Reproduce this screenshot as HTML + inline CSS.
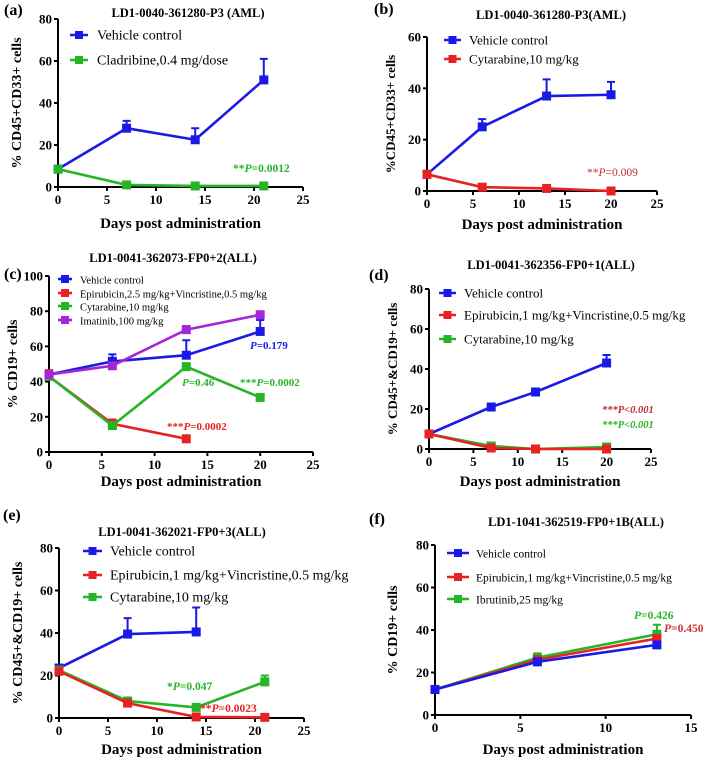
<!DOCTYPE html>
<html><head><meta charset="utf-8">
<style>
html,body{margin:0;padding:0;background:#fff;}
svg{display:block;font-family:"Liberation Serif",serif;}
svg text{font-family:"Liberation Serif","DejaVu Serif",serif;}
</style></head>
<body>
<svg id="fig" width="708" height="761" viewBox="0 0 708 761" xmlns="http://www.w3.org/2000/svg"></svg>
<script>
// ---- data ----
const aDays=[0,7,14,21];
const aVehicle=[8.5,28,22.5,51]; const aVehicleErr=[0,3.5,5.5,10];
const aClad=[8.5,1,0.5,0.5];
const aYTicks=[0,20,40,60,80]; const aXTicks=[0,5,10,15,20,25];

const bDays=[0,6,13,20];
const bVehicle=[6.5,25,37,37.5]; const bVehicleErr=[0,3,6.5,5];
const bCyt=[6.5,1.5,1,0];
const bYTicks=[0,20,40,60]; const bXTicks=[0,5,10,15,20,25];

const cDays=[0,6,13,20]; const cEpiDays=[0,6,13];
const cVehicle=[44,51.5,55,68.5]; const cVehicleErr=[0,4,8.5,6.5];
const cEpi=[43,16,7.5]; const cEpiErr=[3.5,2.5,0];
const cCyt=[43,15,48.5,31];
const cIma=[44,49,69.5,78]; const cImaErr=[0,0,2,0];
const cYTicks=[0,20,40,60,80,100]; const cXTicks=[0,5,10,15,20,25];

const dDays=[0,7,12,20];
const dVehicle=[7.5,21,28.5,43]; const dVehicleErr=[0,1.5,1.5,4];
const dEpi=[7.5,0.5,0,0];
const dCyt=[7.5,1.5,0,1];
const dYTicks=[0,20,40,60,80]; const dXTicks=[0,5,10,15,20,25];

const eDays=[0,7,14]; const eDays2=[0,7,14,21];
const eVehicle=[23.5,39.5,40.5]; const eVehicleErr=[1.5,7.5,11.5];
const eEpi=[22,7,0.5,0.3];
const eCyt=[22.5,8,5,17]; const eCytErr=[0,1,0,3];
const eYTicks=[0,20,40,60,80]; const eXTicks=[0,5,10,15,20,25];

const fDays=[0,6,13];
const fVehicle=[12,25,33];
const fEpi=[12,26,36];
const fIbru=[12,27,38]; const fIbruErr=[0,2,4.5];
const fYTicks=[0,20,40,60,80]; const fXTicks=[0,5,10,15];

const BLUE="#1a1ae6",RED="#e62222",GREEN="#26b526",PURPLE="#a526d6";
const NS="http://www.w3.org/2000/svg";
const svg=document.getElementById('fig');
function mk(tag,attrs,parent,text){const e=document.createElementNS(NS,tag);for(const k in attrs)e.setAttribute(k,attrs[k]);if(tag==='text')e.setAttribute('font-family','Liberation Serif, serif');if(text!==undefined)e.textContent=text;(parent||svg).appendChild(e);return e;}

function panel(p){
  const g=mk('g',{});
  
  
  const xs=v=>p.x0+(v-p.xmin)/(p.xmax-p.xmin)*(p.x1-p.x0);
  const ys=v=>p.y0-(v-p.ymin)/(p.ymax-p.ymin)*(p.y0-p.y1);
  const ya=mk('line',{x1:p.x0,y1:p.y1,x2:p.x0,y2:p.y0,stroke:'#000','stroke-width':2},g);
  
  const xa=mk('line',{x1:p.x0,y1:p.y0,x2:p.x1,y2:p.y0,stroke:'#000','stroke-width':2},g);
  
  p.yt.forEach(v=>{
    mk('line',{x1:p.x0-4,y1:ys(v),x2:p.x0,y2:ys(v),stroke:'#000','stroke-width':2},g);
    const t=mk('text',{x:p.x0-6,y:ys(v)+4.5,'text-anchor':'end','font-size':13,'font-weight':'bold'},g,v);
    
  });
  p.xt.forEach(v=>{
    mk('line',{x1:xs(v),y1:p.y0,x2:xs(v),y2:p.y0+4,stroke:'#000','stroke-width':2},g);
    const t=mk('text',{x:xs(v),y:p.y0+17,'text-anchor':'middle','font-size':13,'font-weight':'bold'},g,v);
    
  });
  const lab=mk('text',{x:p.labx,y:p.laby,'font-size':16,'font-weight':'bold'},g,'('+p.id+')');
  
  const ti=mk('text',{x:p.tx,y:p.ty,'text-anchor':'middle','font-size':12.5,'font-weight':'bold'},g,p.title);
  
  const xl=mk('text',{x:(p.x0+p.x1)/2,y:p.xly,'text-anchor':'middle','font-size':15,'font-weight':'bold'},g,'Days post administration');
  
  const yl=mk('text',{x:0,y:0,'text-anchor':'middle','font-size':p.ylfs||14,'font-weight':'bold',transform:`translate(${p.ylx},${(p.y0+p.y1)/2}) rotate(-90)`},g,p.ylabel);
  
  p.series.forEach(s=>{
    const sg=mk('g',{},g);
    
    if(s.err) s.days.forEach((d,i)=>{ if(s.err[i]>0){
      const x=xs(d),y=ys(s.vals[i]),ye=ys(s.vals[i]+s.err[i]);
      const el=mk('path',{d:`M${x},${y}V${ye}M${x-4},${ye}H${x+4}`,stroke:s.color,'stroke-width':2,fill:'none'},sg);
      
    }});
    const pts=s.days.map((d,i)=>xs(d)+','+ys(s.vals[i])).join(' ');
    const pl=mk('polyline',{points:pts,fill:'none',stroke:s.color,'stroke-width':2.6},sg);
    
    s.days.forEach((d,i)=>{
      const r=mk('rect',{x:xs(d)-4.5,y:ys(s.vals[i])-4.5,width:9,height:9,fill:s.color},sg);
      
    });
  });
  p.legend.forEach((l,i)=>{
    const lg=mk('g',{},g);
    
    const y=p.lrows[i];
    mk('line',{x1:p.lx0,y1:y,x2:p.lx1,y2:y,stroke:l.color,'stroke-width':2.6},lg);
    mk('rect',{x:(p.lx0+p.lx1)/2-4,y:y-4,width:8,height:8,fill:l.color},lg);
    mk('text',{x:p.ltx,y:y+4.5,'font-size':p.lfs},lg,l.text);
  });
  p.notes.forEach(n=>{
    const t=mk('text',{x:n.x,y:n.y,fill:n.color,'font-size':n.fs||11.5,'font-weight':n.bold===false?'normal':'bold','font-style':n.italic?'italic':'normal'},g);
    
    n.parts.forEach(pt=>mk('tspan',{'font-style':pt[1]?'italic':'inherit'},t,pt[0]));
  });
}

panel({id:'a',x0:58,x1:303,y0:187,y1:19,xmin:0,xmax:25,ymin:0,ymax:80,yt:aYTicks,xt:aXTicks,
 labx:4,laby:15,tx:188,ty:17,title:'LD1-0040-361280-P3 (AML)',xly:228,ylx:21,ylabel:'% CD45+CD33+ cells',ylfs:14,
 series:[{key:'vehicle',days:aDays,vals:aVehicle,err:aVehicleErr,color:BLUE},{key:'cladribine',days:aDays,vals:aClad,color:GREEN}],
 legend:[{text:'Vehicle control',color:BLUE},{text:'Cladribine,0.4 mg/dose',color:GREEN}],lrows:[35,60],lx0:70,lx1:88,ltx:97,lfs:14,
 notes:[{x:233,y:172,color:GREEN,parts:[['**'],['P',1],['=0.0012']]}]});

panel({id:'b',x0:427,x1:657,y0:191,y1:37,xmin:0,xmax:25,ymin:0,ymax:60,yt:bYTicks,xt:bXTicks,
 labx:374,laby:14,tx:551,ty:19,title:'LD1-0040-361280-P3(AML)',xly:229,ylx:395,ylabel:'%CD45+CD33+ cells',ylfs:13,
 series:[{key:'vehicle',days:bDays,vals:bVehicle,err:bVehicleErr,color:BLUE},{key:'cytarabine',days:bDays,vals:bCyt,color:RED}],
 legend:[{text:'Vehicle control',color:BLUE},{text:'Cytarabine,10 mg/kg',color:RED}],lrows:[40,59],lx0:444,lx1:461,ltx:469,lfs:13,
 notes:[{x:587,y:176,color:'#c03030',bold:false,parts:[['**'],['P',1],['=0.009']]}]});

panel({id:'c',x0:49,x1:313,y0:452,y1:276,xmin:0,xmax:25,ymin:0,ymax:100,yt:cYTicks,xt:cXTicks,
 labx:4,laby:279,tx:173,ty:262,title:'LD1-0041-362073-FP0+2(ALL)',xly:486,ylx:17,ylabel:'% CD19+ cells',ylfs:14,
 series:[{key:'vehicle',days:cDays,vals:cVehicle,err:cVehicleErr,color:BLUE},{key:'epirubicin',days:cEpiDays,vals:cEpi,err:cEpiErr,color:RED},
  {key:'cytarabine',days:cDays,vals:cCyt,color:GREEN},{key:'imatinib',days:cDays,vals:cIma,err:cImaErr,color:PURPLE}],
 legend:[{text:'Vehicle control',color:BLUE},{text:'Epirubicin,2.5 mg/kg+Vincristine,0.5 mg/kg',color:RED},{text:'Cytarabine,10 mg/kg',color:GREEN},{text:'Imatinib,100 mg/kg',color:PURPLE}],
 lrows:[279,293,306,320],lx0:58,lx1:72,ltx:80,lfs:10.5,
 notes:[{x:250,y:349,color:BLUE,fs:11,parts:[['P',1],['=0.179']]},{x:182,y:386,color:GREEN,fs:11,parts:[['P',1],['=0.46']]},
  {x:240,y:386,color:GREEN,fs:11,parts:[['***'],['P',1],['=0.0002']]},{x:167,y:430,color:RED,fs:11,parts:[['***'],['P',1],['=0.0002']]}]});

panel({id:'d',x0:429,x1:651,y0:449,y1:289,xmin:0,xmax:25,ymin:0,ymax:80,yt:dYTicks,xt:dXTicks,
 labx:369,laby:280,tx:551,ty:269,title:'LD1-0041-362356-FP0+1(ALL)',xly:486,ylx:397,ylabel:'% CD45+&CD19+ cells',ylfs:13,
 series:[{key:'vehicle',days:dDays,vals:dVehicle,err:dVehicleErr,color:BLUE},{key:'cytarabine',days:dDays,vals:dCyt,color:GREEN},{key:'epirubicin',days:dDays,vals:dEpi,color:RED}],
 legend:[{text:'Vehicle control',color:BLUE},{text:'Epirubicin,1 mg/kg+Vincristine,0.5 mg/kg',color:RED},{text:'Cytarabine,10 mg/kg',color:GREEN}],
 lrows:[293,315,339],lx0:439,lx1:456,ltx:464,lfs:13,
 notes:[{x:602,y:413,color:'#c03030',fs:10.5,italic:true,parts:[['***'],['P<0.001']]},{x:602,y:428,color:GREEN,fs:10.5,italic:true,parts:[['***'],['P<0.001']]}]});

panel({id:'e',x0:59,x1:304,y0:718,y1:548,xmin:0,xmax:25,ymin:0,ymax:80,yt:eYTicks,xt:eXTicks,
 labx:3,laby:520,tx:182,ty:536,title:'LD1-0041-362021-FP0+3(ALL)',xly:754,ylx:22,ylabel:'% CD45+&CD19+ cells',ylfs:14,
 series:[{key:'vehicle',days:eDays,vals:eVehicle,err:eVehicleErr,color:BLUE},{key:'cytarabine',days:eDays2,vals:eCyt,err:eCytErr,color:GREEN},{key:'epirubicin',days:eDays2,vals:eEpi,color:RED}],
 legend:[{text:'Vehicle control',color:BLUE},{text:'Epirubicin,1 mg/kg+Vincristine,0.5 mg/kg',color:RED},{text:'Cytarabine,10 mg/kg',color:GREEN}],
 lrows:[551,575,597],lx0:83,lx1:102,ltx:110,lfs:14,
 notes:[{x:167,y:690,color:GREEN,fs:11.5,parts:[['*'],['P',1],['=0.047']]},{x:200,y:712,color:RED,fs:11.5,parts:[['**'],['P',1],['=0.0023']]}]});

panel({id:'f',x0:435,x1:691,y0:715,y1:545,xmin:0,xmax:15,ymin:0,ymax:80,yt:fYTicks,xt:fXTicks,
 labx:369,laby:524,tx:576,ty:526,title:'LD1-1041-362519-FP0+1B(ALL)',xly:754,ylx:397,ylabel:'% CD19+ cells',ylfs:14,
 series:[{key:'ibrutinib',days:fDays,vals:fIbru,err:fIbruErr,color:GREEN},{key:'epirubicin',days:fDays,vals:fEpi,color:RED},{key:'vehicle',days:fDays,vals:fVehicle,color:BLUE}],
 legend:[{text:'Vehicle control',color:BLUE},{text:'Epirubicin,1 mg/kg+Vincristine,0.5 mg/kg',color:RED},{text:'Ibrutinib,25 mg/kg',color:GREEN}],
 lrows:[553,577,599],lx0:447,lx1:469,ltx:476,lfs:11.5,
 notes:[{x:634,y:619,color:GREEN,fs:11.5,parts:[['P',1],['=0.426']]},{x:664,y:632,color:'#d03030',fs:11.5,parts:[['P',1],['=0.450']]}]});
</script>
</body></html>
